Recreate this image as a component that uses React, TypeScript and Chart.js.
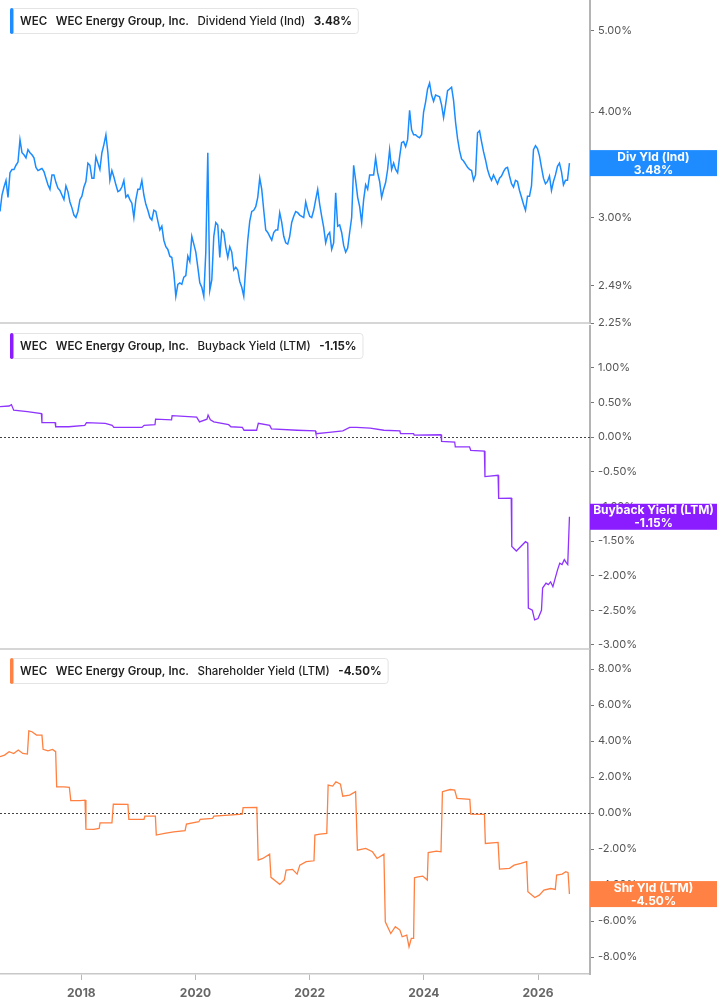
import { useEffect, useRef } from 'react';
import { Chart, registerables } from 'chart.js';

Chart.register(...registerables);

const FONT = 'Inter, "Noto Sans", sans-serif';

// shared time axis (decimal years)
const X_MIN = 2016.575;
const X_MAX = 2026.91;
const YEAR_TICKS = [2018, 2020, 2022, 2024, 2026];

// Dividend yield (Ind), sampled roughly every 13 days
const DIV_START = 2016.575;
const DIV_STEP = 0.035;
const DIV_VALUES = [
  3.05, 3.19, 3.26, 3.32, 3.17, 3.39, 3.42, 3.42, 3.46, 3.49,
  3.71, 3.58, 3.56, 3.53, 3.61, 3.58, 3.56, 3.53, 3.44, 3.41,
  3.42, 3.43, 3.40, 3.34, 3.28, 3.24, 3.37, 3.37, 3.30, 3.25,
  3.23, 3.19, 3.15, 3.27, 3.22, 3.13, 3.08, 3.02, 3.00, 3.05,
  3.15, 3.18, 3.26, 3.31, 3.48, 3.46, 3.34, 3.34, 3.54, 3.48,
  3.42, 3.58, 3.66, 3.76, 3.58, 3.32, 3.41, 3.35, 3.28, 3.22,
  3.23, 3.26, 3.32, 3.17, 3.19, 3.15, 3.12, 3.00, 3.15, 3.24,
  3.24, 3.32, 3.19, 3.11, 3.06, 3.00, 2.98, 3.06, 3.05, 2.97,
  2.90, 2.93, 2.82, 2.77, 2.75, 2.70, 2.69, 2.58, 2.42, 2.50,
  2.51, 2.50, 2.55, 2.56, 2.70, 2.66, 2.85, 2.79, 2.73, 2.62,
  2.51, 2.48, 2.42, 2.73, 3.58, 2.46, 2.53, 2.85, 2.96, 2.94,
  2.69, 2.90, 2.88, 2.77, 2.69, 2.77, 2.73, 2.60, 2.62, 2.60,
  2.52, 2.48, 2.42, 2.62, 2.82, 2.97, 3.05, 3.06, 3.09, 3.17,
  3.34, 3.24, 3.06, 2.90, 2.88, 2.85, 2.82, 2.88, 2.90, 2.90,
  3.04, 2.96, 2.85, 2.80, 2.79, 2.85, 2.96, 3.01, 3.05, 3.04,
  3.02, 3.01, 3.00, 3.13, 3.06, 3.01, 3.00, 3.06, 3.15, 3.24,
  3.11, 3.01, 2.92, 2.80, 2.86, 2.88, 2.75, 2.80, 3.21, 2.93,
  2.94, 2.88, 2.78, 2.73, 2.76, 2.88, 3.00, 3.46, 3.32, 3.17,
  3.09, 2.96, 3.15, 3.28, 3.24, 3.37, 3.37, 3.37, 3.53, 3.39,
  3.31, 3.17, 3.24, 3.30, 3.42, 3.61, 3.42, 3.48, 3.42, 3.39,
  3.54, 3.68, 3.69, 3.64, 3.71, 4.02, 3.81, 3.76, 3.76, 3.74,
  3.73, 3.76, 4.00, 4.11, 4.26, 4.33, 4.19, 4.12, 4.19, 4.18,
  4.17, 4.08, 3.94, 4.08, 4.24, 4.26, 4.28, 4.13, 3.89, 3.72,
  3.60, 3.52, 3.50, 3.47, 3.44, 3.42, 3.41, 3.32, 3.37, 3.78,
  3.80, 3.69, 3.59, 3.51, 3.42, 3.36, 3.32, 3.37, 3.33, 3.29,
  3.34, 3.36, 3.40, 3.43, 3.44, 3.36, 3.29, 3.26, 3.32, 3.31,
  3.23, 3.17, 3.11, 3.06, 3.18, 3.18, 3.27, 3.61, 3.65, 3.62,
  3.55, 3.44, 3.34, 3.29, 3.31, 3.36, 3.23, 3.31, 3.37, 3.45,
  3.48, 3.40, 3.28, 3.32, 3.32, 3.48,
];
const DIV_TICKS = [2.25, 2.49, 3, 4, 5];

// Buyback yield (LTM)
const BB_YEARS = [
  2016.575, 2016.735, 2016.775, 2016.815, 2017.055, 2017.3, 2017.31, 2017.54, 2017.55, 2017.78,
  2018.06, 2018.09, 2018.42, 2018.54, 2018.57, 2019.06, 2019.1, 2019.29, 2019.3, 2019.58,
  2019.59, 2020.02, 2020.07, 2020.2, 2020.22, 2020.26, 2020.32, 2020.58, 2020.62, 2020.82,
  2020.85, 2021.07, 2021.1, 2021.3, 2021.33, 2021.78, 2022.1, 2022.11, 2022.34, 2022.58,
  2022.7, 2022.82, 2023.06, 2023.3, 2023.58, 2023.59, 2023.82, 2023.83, 2024.3, 2024.31,
  2024.54, 2024.55, 2024.8, 2024.82, 2025.06, 2025.07, 2025.3, 2025.31, 2025.53, 2025.54,
  2025.62, 2025.78, 2025.82, 2025.83, 2025.9, 2025.94, 2026.0, 2026.06, 2026.08, 2026.14,
  2026.18, 2026.22, 2026.26, 2026.3, 2026.34, 2026.38, 2026.42, 2026.46, 2026.5, 2026.52,
  2026.55,
];
const BB_VALUES = [
  0.44, 0.45, 0.47, 0.39, 0.37, 0.34, 0.21, 0.21, 0.15, 0.15,
  0.17, 0.21, 0.2, 0.17, 0.14, 0.14, 0.17, 0.18, 0.26, 0.25,
  0.31, 0.29, 0.22, 0.26, 0.32, 0.25, 0.22, 0.18, 0.15, 0.14,
  0.1, 0.1, 0.2, 0.17, 0.12, 0.1, 0.09, 0.05, 0.07, 0.09,
  0.14, 0.14, 0.13, 0.1, 0.09, 0.05, 0.05, 0.03, 0.035, -0.06,
  -0.07, -0.14, -0.14, -0.19, -0.2, -0.57, -0.55, -0.885, -0.88, -1.58,
  -1.645, -1.51, -1.53, -2.47, -2.5, -2.64, -2.62, -2.5, -2.18, -2.11,
  -2.13, -2.09, -2.16, -2.04, -1.92, -1.82, -1.84, -1.77, -1.82, -1.84,
  -1.15,
];
const BB_TICKS = [-3, -2.5, -2, -1.5, -1, -0.5, 0, 0.5, 1];

// Shareholder yield (LTM)
const SY_YEARS = [
  2016.575, 2016.655, 2016.735, 2016.815, 2016.895, 2016.975, 2017.055, 2017.08, 2017.135, 2017.215,
  2017.31, 2017.33, 2017.415, 2017.495, 2017.55, 2017.568, 2017.696, 2017.79, 2017.815, 2017.976,
  2018.064, 2018.08, 2018.216, 2018.312, 2018.328, 2018.536, 2018.56, 2018.816, 2018.832, 2019.097,
  2019.113, 2019.297, 2019.313, 2019.457, 2019.617, 2019.817, 2019.841, 2020.057, 2020.082, 2020.298,
  2020.322, 2020.578, 2020.818, 2020.834, 2021.074, 2021.098, 2021.178, 2021.298, 2021.322, 2021.418,
  2021.475, 2021.555, 2021.587, 2021.699, 2021.779, 2021.827, 2021.939, 2022.075, 2022.091, 2022.179,
  2022.299, 2022.323, 2022.403, 2022.459, 2022.539, 2022.579, 2022.699, 2022.804, 2022.836, 2022.98,
  2023.1, 2023.18, 2023.3, 2023.324, 2023.42, 2023.5, 2023.58, 2023.62, 2023.7, 2023.74,
  2023.78, 2023.82, 2023.836, 2023.9, 2023.98, 2024.06, 2024.076, 2024.22, 2024.3, 2024.325,
  2024.46, 2024.54, 2024.58, 2024.805, 2024.821, 2025.061, 2025.077, 2025.3, 2025.325, 2025.5,
  2025.58, 2025.7, 2025.8, 2025.822, 2025.942, 2026.022, 2026.102, 2026.222, 2026.302, 2026.326,
  2026.422, 2026.486, 2026.526, 2026.55,
];
const SY_VALUES = [
  3.13, 3.22, 3.41, 3.31, 3.5, 3.31, 3.28, 4.57, 4.52, 4.33,
  4.33, 3.54, 3.46, 3.54, 3.41, 1.46, 1.46, 1.43, 0.69, 0.69,
  0.72, -0.89, -0.91, -0.85, -0.54, -0.54, 0.5, 0.48, -0.35, -0.35,
  -0.17, -0.17, -1.22, -1.13, -1.04, -0.98, -0.61, -0.48, -0.35, -0.3,
  -0.17, -0.11, -0.06, 0.3, 0.31, -2.61, -2.52, -2.28, -3.57, -3.81,
  -3.96, -3.72, -3.17, -3.13, -3.39, -2.89, -2.7, -2.65, -1.22, -1.17,
  -1.13, 1.56, 1.5, 1.74, 1.61, 0.94, 1.0, 1.19, -2.06, -1.96,
  -2.15, -2.52, -2.28, -6.04, -6.69, -6.31, -6.5, -6.87, -6.78, -7.43,
  -6.96, -6.96, -3.59, -3.54, -3.5, -3.72, -2.19, -2.11, -2.15, 1.19,
  1.31, 1.28, 0.81, 0.76, -0.06, -0.07, -1.69, -1.63, -3.11, -3.07,
  -2.89, -2.8, -2.7, -4.37, -4.69, -4.56, -4.28, -4.19, -4.24, -3.44,
  -3.39, -3.26, -3.31, -4.5,
];
const SY_TICKS = [-8, -6, -4, -2, 0, 2, 4, 6, 8];

const divPoints = DIV_VALUES.map((v, i) => ({ x: DIV_START + i * DIV_STEP, y: v }));
const bbPoints = BB_YEARS.map((x, i) => ({ x, y: BB_VALUES[i] }));
const syPoints = SY_YEARS.map((x, i) => ({ x, y: SY_VALUES[i] }));

interface PanelProps {
  top: number;
  height: number;
  padBottom: number;
  points: { x: number; y: number }[];
  lineColor: string;
  lineWidth: number;
  tagColor: string;
  yType: 'linear' | 'logarithmic';
  yMin: number;
  yMax: number;
  yTicks: number[];
  legend: string[];
  tag: string[];
  lastValue: number;
  zeroLine: boolean;
  showX: boolean;
}

function Panel(p: PanelProps) {
  const canvasRef = useRef<HTMLCanvasElement | null>(null);

  useEffect(() => {
    if (!canvasRef.current) return;
    const ctx = canvasRef.current.getContext('2d');
    if (!ctx) return;

    const overlay = {
      id: 'overlay',
      beforeDatasetsDraw(chart: any) {
        const { ctx: c, chartArea } = chart;
        if (p.zeroLine) {
          const y0 = Math.round(chart.scales.y.getPixelForValue(0)) + 0.5;
          c.save();
          c.strokeStyle = '#444';
          c.lineWidth = 1;
          c.setLineDash([2, 2]);
          c.beginPath();
          c.moveTo(chartArea.left, y0);
          c.lineTo(chartArea.right, y0);
          c.stroke();
          c.restore();
        }
        if (!p.showX) {
          c.save();
          c.strokeStyle = '#c8c8c8';
          c.lineWidth = 1.5;
          c.beginPath();
          c.moveTo(chartArea.left, chartArea.bottom);
          c.lineTo(chartArea.right, chartArea.bottom);
          c.stroke();
          c.restore();
        }
      },
      afterDraw(chart: any) {
        const { ctx: c, chartArea } = chart;
        c.save();
        // legend chip
        const weights = ['600', '600', '500', '700'];
        const gap = 8.5;
        let w = 0;
        const widths = p.legend.map((t, i) => {
          c.font = `${weights[i]} 11.5px ${FONT}`;
          const m = c.measureText(t).width;
          w += m;
          return m;
        });
        const boxX = 10;
        const boxY = 8;
        const boxW = 10 + w + gap * (p.legend.length - 1) + 6;
        const boxH = 25;
        c.fillStyle = 'rgba(255,255,255,0.95)';
        c.strokeStyle = '#e4e4e4';
        c.lineWidth = 1;
        c.beginPath();
        c.roundRect(boxX + 0.5, boxY + 0.5, boxW, boxH, 3);
        c.fill();
        c.stroke();
        c.fillStyle = p.tagColor;
        c.beginPath();
        c.roundRect(boxX, boxY, 3.5, boxH + 1, 2);
        c.fill();
        c.fillStyle = '#1f1f1f';
        c.textBaseline = 'middle';
        c.textAlign = 'left';
        let tx = boxX + 10;
        p.legend.forEach((t, i) => {
          c.font = `${weights[i]} 11.5px ${FONT}`;
          c.fillText(t, tx, boxY + boxH / 2 + 1);
          tx += widths[i] + gap;
        });

        // value tag on the axis
        const yv = chart.scales.y.getPixelForValue(p.lastValue);
        const left = chartArea.right;
        const right = chart.width;
        c.fillStyle = p.tagColor;
        c.fillRect(left, yv - 13, right - left, 26);
        c.fillStyle = '#ffffff';
        c.font = `700 12px ${FONT}`;
        c.textAlign = 'center';
        const cx = (left + right) / 2;
        c.fillText(p.tag[0], cx, yv - 6);
        c.fillText(p.tag[1], cx, yv + 7);
        c.restore();
      },
    };

    const chart = new Chart(ctx, {
      type: 'line',
      data: {
        datasets: [
          {
            data: p.points,
            borderColor: p.lineColor,
            borderWidth: p.lineWidth,
            pointRadius: 0,
            tension: 0,
          },
        ],
      },
      options: {
        animation: false,
        responsive: true,
        maintainAspectRatio: false,
        events: [],
        layout: { autoPadding: false, padding: { left: 0, right: 0, top: 0, bottom: p.padBottom } },
        plugins: {
          legend: { display: false },
          tooltip: { enabled: false },
        },
        scales: {
          x: {
            type: 'linear',
            min: X_MIN,
            max: X_MAX,
            display: p.showX,
            afterBuildTicks: (s: any) => {
              s.ticks = YEAR_TICKS.map((v) => ({ value: v }));
            },
            afterFit: (s: any) => {
              if (p.showX) s.height = 31;
              s.paddingLeft = 0;
              s.paddingRight = 0;
            },
            grid: { drawOnChartArea: false, drawTicks: true, tickLength: 6, color: '#b8b8b8' },
            border: { display: true, color: '#c8c8c8', width: 1.5 },
            ticks: {
              color: '#666',
              font: { family: FONT, size: 12, weight: 'bold' },
              padding: 6,
              maxRotation: 0,
              autoSkip: false,
              callback: (v: any) => String(v),
            },
          },
          y: {
            type: p.yType,
            position: 'right',
            min: p.yMin,
            max: p.yMax,
            afterBuildTicks: (s: any) => {
              s.ticks = p.yTicks.map((v) => ({ value: v }));
            },
            afterFit: (s: any) => {
              s.width = 127;
              s.paddingTop = 0;
              s.paddingBottom = 0;
            },
            grid: { drawOnChartArea: false, drawTicks: true, tickLength: 4, color: '#777' },
            border: { display: true, color: '#b4b4b4', width: 2 },
            ticks: {
              color: '#555',
              font: { family: FONT, size: 11 },
              padding: 4,
              autoSkip: false,
              callback: (v: any) => Number(v).toFixed(2) + '%',
            },
          },
        },
      } as any,
      plugins: [overlay],
    });

    return () => {
      chart.destroy();
    };
  }, []);

  return (
    <div style={{ position: 'absolute', left: 0, top: p.top, width: 717, height: p.height }}>
      <canvas ref={canvasRef}></canvas>
    </div>
  );
}

export default function App() {
  useEffect(() => {
    document.body.style.margin = '0';
  }, []);

  return (
    <div style={{ position: 'relative', width: 717, height: 1005, background: '#fff', overflow: 'hidden' }}>
      <Panel
        top={0}
        height={334}
        padBottom={11}
        points={divPoints}
        lineColor="#1a8cff"
        lineWidth={1.5}
        tagColor="#1e8cff"
        yType="logarithmic"
        yMin={2.25}
        yMax={5.43}
        yTicks={DIV_TICKS}
        legend={['WEC', 'WEC Energy Group, Inc.', 'Dividend Yield (Ind)', '3.48%']}
        tag={['Div Yld (Ind)', '3.48%']}
        lastValue={3.48}
        zeroLine={false}
        showX={false}
      />
      <Panel
        top={325}
        height={334}
        padBottom={10}
        points={bbPoints}
        lineColor="#8f33ff"
        lineWidth={1.3}
        tagColor="#8a1cff"
        yType="linear"
        yMin={-3.06}
        yMax={1.62}
        yTicks={BB_TICKS}
        legend={['WEC', 'WEC Energy Group, Inc.', 'Buyback Yield (LTM)', '-1.15%']}
        tag={['Buyback Yield (LTM)', '-1.15%']}
        lastValue={-1.15}
        zeroLine={true}
        showX={false}
      />
      <Panel
        top={650}
        height={355}
        padBottom={0}
        points={syPoints}
        lineColor="#ff8040"
        lineWidth={1.3}
        tagColor="#ff8244"
        yType="linear"
        yMin={-8.94}
        yMax={9.06}
        yTicks={SY_TICKS}
        legend={['WEC', 'WEC Energy Group, Inc.', 'Shareholder Yield (LTM)', '-4.50%']}
        tag={['Shr Yld (LTM)', '-4.50%']}
        lastValue={-4.5}
        zeroLine={true}
        showX={true}
      />
    </div>
  );
}
